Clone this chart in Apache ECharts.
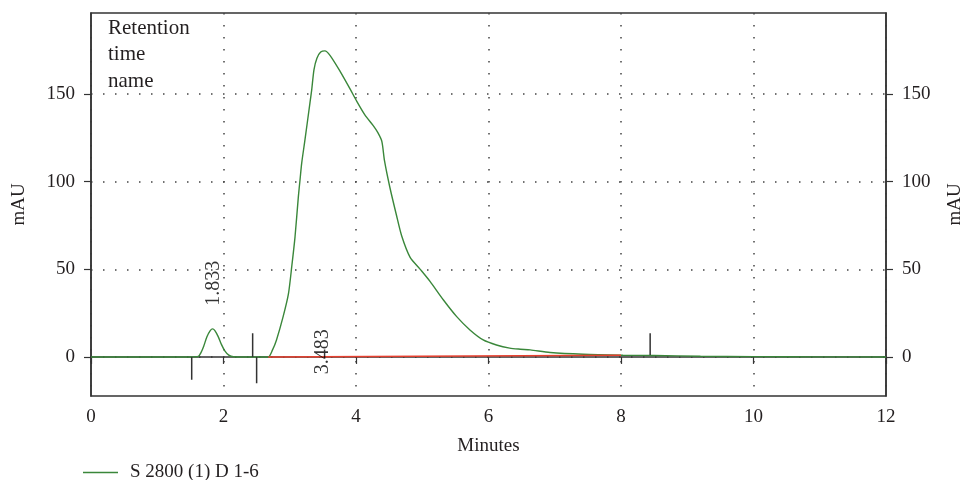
<!DOCTYPE html>
<html>
<head>
<meta charset="utf-8">
<script src="https://cdn.jsdelivr.net/npm/echarts@6/dist/echarts.min.js"></script>
<style>
  html, body { margin: 0; padding: 0; background: #fff; overflow: hidden; }
  #chart { width: 965px; height: 480px; }
</style>
</head>
<body>
<div id="chart"></div>
<script>
// chromatogram trace, minutes vs mAU
const times = [0, 1.5, 1.62, 1.66, 1.70, 1.75, 1.80, 1.835, 1.87, 1.92, 1.97, 2.02, 2.08, 2.15, 2.3, 2.5, 2.676,
  2.74, 2.80, 2.90, 2.98, 3.03, 3.08, 3.13, 3.155, 3.18, 3.23, 3.305, 3.33, 3.366, 3.41, 3.467, 3.53, 3.61,
  3.76, 3.91, 4.01, 4.136, 4.26, 4.33, 4.39, 4.43, 4.51, 4.61, 4.69, 4.815, 4.97, 5.12, 5.32, 5.52, 5.72,
  5.92, 6.12, 6.32, 6.48, 6.63, 6.93, 7.43, 8.03, 8.5, 9.2, 10, 11, 12];
const signal = [0, 0, 0.3, 2.5, 6, 11.5, 15, 16, 15, 11.6, 7, 3.5, 1, 0.1, 0, 0, 0,
  4, 9.7, 23, 36, 51.5, 68.7, 91.5, 101, 110.5, 124, 145, 152, 164, 170.5, 174, 174.7, 172,
  163, 153, 146, 138, 132, 128, 123, 112, 97, 81, 69, 57, 50, 43, 32.5, 23, 15.4,
  9.7, 6.8, 5, 4.4, 4, 2.5, 1.5, 1.0, 0.8, 0.4, 0.2, 0.05, 0];

// integration baseline (red)
const baseTimes = [2.676, 8.0];
const baseValues = [0, 1.0];

// peak start/end event marks: [time, from, to]
const eventMarks = [[1.52, 0, -13], [2.44, 0, 13.5], [2.50, 0, -15], [8.44, 1.1, 13.5]];

// retention time labels and where they sit (data coords)
const peakTimes = [1.833, 3.483];
const peakLabelAt = [[1.86, 42], [3.50, 3]];

const yTicks = [0, 50, 100, 150];
const seriesName = 'S 2800 (1) D 1-6';

const FONT = '"Liberation Serif", "DejaVu Serif", serif';
const INK = '#231f20';
const GREEN = '#3a873a';

const chart = echarts.init(document.getElementById('chart'));

const yAxisBase = {
  type: 'value',
  min: -22.3,
  max: 196.3,
  name: 'mAU',
  nameLocation: 'middle',
  nameRotate: 90,
  nameTextStyle: { color: INK, fontFamily: FONT, fontSize: 19 },
  axisLine: { show: true, lineStyle: { color: '#333', width: 1.5 } },
  axisTick: { show: true, inside: false, length: 7, customValues: yTicks, lineStyle: { color: '#333', width: 1.2 } },
  axisLabel: { customValues: yTicks, color: INK, fontFamily: FONT, fontSize: 19, margin: 16 },
  splitLine: { show: false }
};

const markSeries = eventMarks.map(m => ({
  type: 'line',
  name: 'mark',
  data: [[m[0], m[1]], [m[0], m[2]]],
  symbol: 'none',
  silent: true,
  lineStyle: { color: '#333', width: 1.5 },
  z: 4
}));

chart.setOption({
  animation: false,
  backgroundColor: '#fff',
  grid: {
    left: 91, right: 79, top: 13, bottom: 84,
    outerBoundsMode: 'none',
    containLabel: false,
    show: true, borderColor: '#333', borderWidth: 1.5
  },
  legend: {
    data: [{ name: seriesName, icon: 'rect' }],
    left: 78,
    top: 458,
    itemWidth: 35,
    itemHeight: 1.3,
    textStyle: { color: INK, fontFamily: FONT, fontSize: 19, padding: [0, 0, 0, 7] }
  },
  graphic: [{
    type: 'text',
    left: 108,
    top: 15,
    style: {
      text: 'Retention\ntime\nname',
      fill: INK,
      font: '21px ' + FONT,
      lineHeight: 26.5
    }
  }],
  xAxis: {
    type: 'value',
    min: 0,
    max: 12,
    interval: 2,
    name: 'Minutes',
    nameLocation: 'middle',
    nameGap: 41,
    nameTextStyle: { color: INK, fontFamily: FONT, fontSize: 19 },
    axisLine: { show: true, lineStyle: { color: '#333', width: 1.5 } },
    axisTick: { show: true, inside: false, length: 7, lineStyle: { color: '#333', width: 1.2 } },
    axisLabel: { color: INK, fontFamily: FONT, fontSize: 19, margin: 12 },
    splitLine: { show: true, lineStyle: { color: '#444', width: 1.5, type: [1.5, 10.5] } }
  },
  yAxis: [
    Object.assign({}, yAxisBase, {
      position: 'left',
      nameGap: 62,
      splitLine: { show: true, lineStyle: { color: '#444', width: 1.5, type: [1.5, 10.5] } }
    }),
    Object.assign({}, yAxisBase, {
      position: 'right',
      nameGap: 60
    })
  ],
  series: [
    {
      type: 'line',
      name: seriesName,
      data: times.map((t, i) => [t, signal[i]]),
      symbol: 'none',
      smooth: 0.25,
      lineStyle: { color: GREEN, width: 1.4 },
      itemStyle: { color: GREEN },
      z: 3
    },
    {
      type: 'line',
      name: 'baseline',
      data: baseTimes.map((t, i) => [t, baseValues[i]]),
      symbol: 'none',
      lineStyle: { color: '#e8402f', width: 1.4 },
      z: 5
    },
    ...markSeries,
    {
      type: 'scatter',
      name: 'peaks',
      symbolSize: 0,
      silent: true,
      data: peakTimes.map((t, i) => [peakLabelAt[i][0], peakLabelAt[i][1], t]),
      label: {
        show: true,
        position: 'inside',
        rotate: 90,
        formatter: p => p.value[2].toFixed(3),
        color: '#000',
        fontFamily: FONT,
        fontSize: 20
      },
      z: 6
    }
  ]
});
</script>
</body>
</html>
